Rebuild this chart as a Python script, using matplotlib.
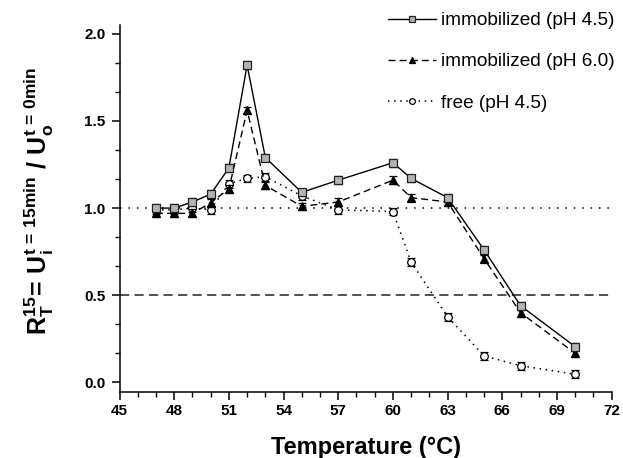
import numpy as np
import matplotlib
matplotlib.use('Agg')
import matplotlib.pyplot as plt
from matplotlib.lines import Line2D
from matplotlib.ticker import AutoMinorLocator

# data
temp = [47, 48, 49, 50, 51, 52, 53, 55, 57, 60, 61, 63, 65, 67, 70]
imm_45 = [1.00, 1.00, 1.035, 1.08, 1.23, 1.82, 1.29, 1.09, 1.16, 1.26, 1.17, 1.06, 0.76, 0.44, 0.205]
imm_60 = [0.97, 0.97, 0.97, 1.03, 1.11, 1.56, 1.13, 1.01, 1.035, 1.16, 1.06, 1.035, 0.71, 0.40, 0.167]
free_45 = [0.99, 0.99, 1.00, 0.99, 1.14, 1.17, 1.18, 1.07, 0.99, 0.98, 0.69, 0.377, 0.152, 0.096, 0.047]
err = 0.022

labels = ['immobilized (pH 4.5)', 'immobilized (pH 6.0)', 'free (pH 4.5)']
xticks = [45, 48, 51, 54, 57, 60, 63, 66, 69, 72]
yticks = [0.0, 0.5, 1.0, 1.5, 2.0]

plt.rcParams['font.family'] = ['Liberation Sans', 'DejaVu Sans']
plt.rcParams['font.weight'] = 'bold'
plt.rcParams['mathtext.fontset'] = 'custom'
plt.rcParams['mathtext.rm'] = 'Liberation Sans:bold'
plt.rcParams['mathtext.bf'] = 'Liberation Sans:bold'
plt.rcParams['mathtext.it'] = 'Liberation Sans:bold'


def main():
    fig = plt.figure(figsize=(6.23, 4.58), dpi=100)
    ax = fig.add_axes([119.5 / 623, 1 - 391.7 / 458, 492.2 / 623, 366.7 / 458])

    ax.axhline(1.0, color='black', lw=1.1, ls=(0, (1, 4.5)), zorder=1)
    ax.axhline(0.5, color='#222222', lw=1.1, ls=(0, (6, 3.5)), zorder=1)

    styles = [
        dict(ls='-', lw=1.0, marker='s', ms=5.5, mfc='#b4b4b4', mec='#222222', mew=0.9),
        dict(ls=(0, (5, 3)), lw=1.0, marker='^', ms=6, mfc='black', mec='black', mew=0.9),
        dict(ls=(0, (1, 3)), lw=1.1, marker='o', ms=5.5, mfc='white', mec='black', mew=0.9),
    ]
    series = [imm_45, imm_60, free_45]
    zs = [4, 3, 2]
    for vals, st, z in zip(series, styles, zs):
        ax.errorbar(temp, vals, yerr=err, color='black', capsize=3,
                    elinewidth=0.9, capthick=0.9, zorder=z, **st)

    ax.set_xlim(45, 72)
    ax.set_ylim(-0.053, 2.05)
    ax.set_xticks(xticks, [str(v) for v in xticks])
    ax.set_yticks(yticks, ['%.1f' % v for v in yticks])
    ax.xaxis.set_minor_locator(AutoMinorLocator(3))
    ax.yaxis.set_minor_locator(AutoMinorLocator(3))

    for s in ['top', 'right']:
        ax.spines[s].set_visible(False)
    for s in ['left', 'bottom']:
        ax.spines[s].set_linewidth(1.1)
    ax.tick_params(which='major', direction='out', length=6, width=1.1, pad=2.5,
                   labelsize=11)
    ax.tick_params(axis='y', which='major', pad=4)
    ax.tick_params(which='minor', direction='out', length=3.5, width=1.0)

    ax.set_xlabel('Temperature (°C)', fontsize=17, fontweight='bold', labelpad=13)
    ax.set_ylabel(r'$\mathbf{R_T^{15}\!=\,U_i^{t\,=\,15min}\ /\ U_o^{t\,=\,0min}}$',
                  fontsize=18)
    ax.yaxis.set_label_coords(-0.13, 0.52)

    handles = [Line2D([], [], color='black', **dict(st, ms=st['ms'] * 0.75))
               for st in styles]
    ax.legend(handles, labels, loc='upper left',
              bbox_to_anchor=(388 / 623, 1 - 12 / 458),
              bbox_transform=fig.transFigure, frameon=False,
              prop={'size': 13.7, 'weight': 'normal'},
              handlelength=2.5, handletextpad=0.3,
              labelspacing=1.25, borderpad=0, borderaxespad=0)

    fig.savefig('out.png', dpi=100)


if __name__ == '__main__':
    main()
